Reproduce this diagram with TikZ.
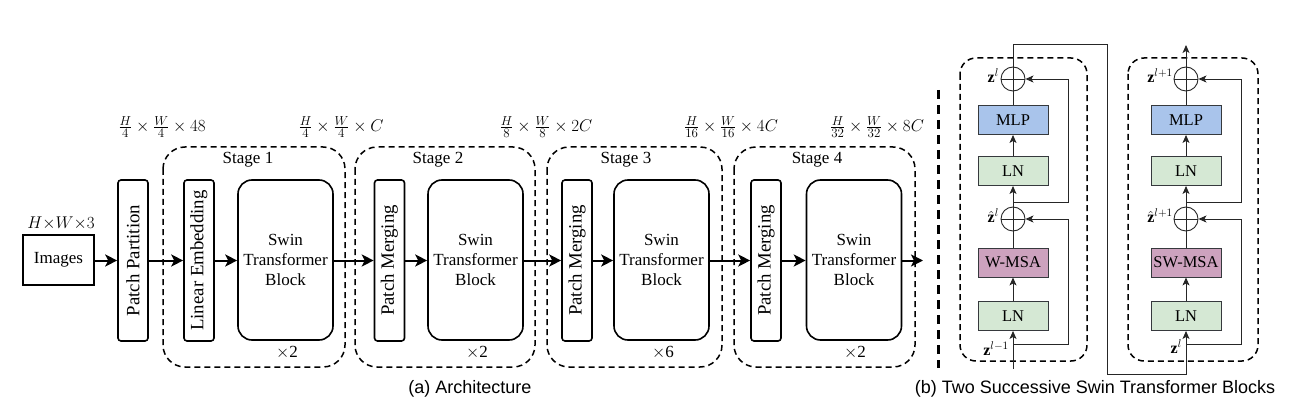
\RequirePackage{fix-cm}
\documentclass[tikz,border=0pt]{standalone}
\usepackage{fontspec}
\setmainfont{Liberation Serif}
\setsansfont{Liberation Sans}
\usetikzlibrary{arrows.meta}
\DeclareMathSizes{17}{17}{13}{10}
\definecolor{lngreen}{HTML}{D5E8D4}
\definecolor{mlpblue}{HTML}{A9C4EB}
\definecolor{msapink}{HTML}{CDA2BE}
\definecolor{edgegray}{HTML}{36393D}
\tikzset{
  txt/.style={font=\fontsize{17}{20.4}\selectfont},
  vtxt/.style={font=\fontsize{18.8}{22}\selectfont},
  smallbox/.style={draw, line width=1.6pt, rounded corners=3pt, fill=white, inner sep=0pt,
     minimum width=30pt, minimum height=161pt, vtxt},
  swin/.style={draw, line width=1.6pt, rounded corners=14pt, fill=white, inner sep=0pt,
     minimum width=95pt, minimum height=160pt, align=center, txt},
  imgbox/.style={draw, line width=1.6pt, inner sep=0pt, minimum width=71pt, minimum height=50pt, txt},
  stagebox/.style={draw, line width=1.5pt, dash pattern=on 6pt off 4pt, rounded corners=22pt},
  mainarr/.style={draw=black, line width=2pt, -{Stealth[length=12pt,width=12pt,inset=3pt]}},
  lbl/.style={font=\fontsize{17}{20.4}\selectfont},
  sb/.style={draw=edgegray, line width=0.9pt, minimum width=70pt, minimum height=29pt, inner sep=0pt,
     font=\fontsize{16.5}{19}\selectfont},
  lnbox/.style={sb, fill=lngreen},
  mlpbox/.style={sb, fill=mlpblue},
  msabox/.style={sb, fill=msapink},
  plusnode/.style={circle, draw=black!85, line width=0.9pt, minimum size=24pt, inner sep=0pt},
  thinln/.style={line width=0.9pt, draw=black!85},
  tarr/.style={thinln, -{Stealth[length=8pt,width=7pt,inset=2pt]}},
  blkdash/.style={draw, line width=1.5pt, dash pattern=on 6pt off 4pt, rounded corners=16pt},
  zl/.style={font=\fontsize{16}{18}\selectfont, inner sep=1pt},
  captxt/.style={font=\sffamily\fontsize{18}{21}\selectfont}
}
\begin{document}
\begin{tikzpicture}[x=1pt,y=-1pt]
\useasboundingbox (0,0) rectangle (1298,406);

% ---------- (a) Architecture ----------
\draw[stagebox] (163,147) rectangle (345,367);
\draw[stagebox] (355,147) rectangle (535,367);
\draw[stagebox] (547,147) rectangle (722,367);
\draw[stagebox] (734,147) rectangle (915,367);

\node[txt] (st1) at (248,160) {Stage 1};
\node[txt] (st2) at (438,160) {Stage 2};
\node[txt] (st3) at (626,160) {Stage 3};
\node[txt] (st4) at (817,160) {Stage 4};

\node[imgbox] (img) at (58.5,260) {Images};
\node[lbl] (imglbl) at (61,223) {$H{\times}W{\times}3$};

\node[smallbox] (pp) at (133,260.5) {\rotatebox{90}{Patch Partition}};
\node[smallbox] (le) at (199,260.5) {\rotatebox{90}{Linear Embedding}};
\node[swin] (sw1) at (285.5,260) {Swin\\Transformer\\Block};
\node[smallbox] (pm2) at (389.5,260.5) {\rotatebox{90}{Patch Merging}};
\node[swin] (sw2) at (475.5,260) {Swin\\Transformer\\Block};
\node[smallbox] (pm3) at (577,260.5) {\rotatebox{90}{Patch Merging}};
\node[swin] (sw3) at (661.5,260) {Swin\\Transformer\\Block};
\node[smallbox] (pm4) at (766,260.5) {\rotatebox{90}{Patch Merging}};
\node[swin] (sw4) at (854,260) {Swin\\Transformer\\Block};
\coordinate (out) at (923,260.5);

\node[txt] (r1) at (287,353) {$\times$2};
\node[txt] (r2) at (477,353) {$\times$2};
\node[txt] (r3) at (663,353) {$\times$6};
\node[txt] (r4) at (855,353) {$\times$2};

\node[lbl] (d1) at (162,127) {$\frac{H}{4}\times\frac{W}{4}\times 48$};
\node[lbl] (d2) at (341,127) {$\frac{H}{4}\times\frac{W}{4}\times C$};
\node[lbl] (d3) at (546,127) {$\frac{H}{8}\times\frac{W}{8}\times 2C$};
\node[lbl] (d4) at (731,127) {$\frac{H}{16}\times\frac{W}{16}\times 4C$};
\node[lbl] (d5) at (877,127) {$\frac{H}{32}\times\frac{W}{32}\times 8C$};

\path[mainarr] (img.east |- out) -- (pp.west |- out);
\path[mainarr] (pp.east |- out) -- (le.west |- out);
\path[mainarr] (le.east |- out) -- (sw1.west |- out);
\path[mainarr] (sw1.east |- out) -- (pm2.west |- out);
\path[mainarr] (pm2.east |- out) -- (sw2.west |- out);
\path[mainarr] (sw2.east |- out) -- (pm3.west |- out);
\path[mainarr] (pm3.east |- out) -- (sw3.west |- out);
\path[mainarr] (sw3.east |- out) -- (pm4.west |- out);
\path[mainarr] (pm4.east |- out) -- (sw4.west |- out);
\path[mainarr] (sw4.east |- out) -- (out);

% separator
\draw[line width=3pt, dash pattern=on 9pt off 6pt] (938,90) -- (938,368);

% ---------- (b) Two blocks ----------
\draw[blkdash] (960,58) rectangle (1087,361);
\draw[blkdash] (1128,58) rectangle (1258,361);

% block 1
\node[lnbox] (lna1) at (1013,316) {LN};
\node[msabox] (msa1) at (1013,262.5) {W-MSA};
\node[plusnode] (pa1) at (1013,219) {};
\node[lnbox] (lnb1) at (1013,171) {LN};
\node[mlpbox] (mlp1) at (1013,120) {MLP};
\node[plusnode] (pb1) at (1013,79) {};
\draw[thinln] (pa1.north) -- (pa1.south) (pa1.west) -- (pa1.east);
\draw[thinln] (pb1.north) -- (pb1.south) (pb1.west) -- (pb1.east);

\coordinate (in1) at (1013,369);
\coordinate (bl1) at (1013,344);
\coordinate (bl1r) at (1068,344);
\coordinate (bl1t) at (1068,219);
\coordinate (bu1) at (1013,202);
\coordinate (bu1r) at (1068,202);
\coordinate (bu1t) at (1068,79);

\draw[tarr] (in1) -- (lna1.south);
\draw[tarr] (lna1.north) -- (msa1.south);
\draw[thinln] (msa1.north) -- (pa1.south);
\draw[tarr] (pa1.north) -- (lnb1.south);
\draw[tarr] (lnb1.north) -- (mlp1.south);
\draw[thinln] (mlp1.north) -- (pb1.south);
\draw[tarr] (bl1) -- (bl1r) -- (bl1t) -- (pa1.east);
\draw[tarr] (bu1) -- (bu1r) -- (bu1t) -- (pb1.east);

\node[zl, anchor=east] (zb1) at (1000,76) {$\mathbf{z}^{l}$};
\node[zl, anchor=east] (za1) at (1000,216) {$\hat{\mathbf{z}}^{l}$};
\node[zl, anchor=east] (zin1) at (1010,349) {$\mathbf{z}^{l-1}$};

% block 2
\node[lnbox] (lna2) at (1186,316) {LN};
\node[msabox] (msa2) at (1186,262.5) {SW-MSA};
\node[plusnode] (pa2) at (1186,219) {};
\node[lnbox] (lnb2) at (1186,171) {LN};
\node[mlpbox] (mlp2) at (1186,120) {MLP};
\node[plusnode] (pb2) at (1186,79) {};
\draw[thinln] (pa2.north) -- (pa2.south) (pa2.west) -- (pa2.east);
\draw[thinln] (pb2.north) -- (pb2.south) (pb2.west) -- (pb2.east);

\coordinate (c1) at (1013,44);
\coordinate (c2) at (1107,44);
\coordinate (c3) at (1107,374);
\coordinate (c4) at (1186,374);
\coordinate (bl2) at (1186,344);
\coordinate (bl2r) at (1241,344);
\coordinate (bl2t) at (1241,219);
\coordinate (bu2) at (1186,202);
\coordinate (bu2r) at (1241,202);
\coordinate (bu2t) at (1241,79);
\coordinate (out2) at (1186,45);

\draw[tarr] (pb1.north) -- (c1) -- (c2) -- (c3) -- (c4) -- (lna2.south);
\draw[tarr] (lna2.north) -- (msa2.south);
\draw[thinln] (msa2.north) -- (pa2.south);
\draw[tarr] (pa2.north) -- (lnb2.south);
\draw[tarr] (lnb2.north) -- (mlp2.south);
\draw[thinln] (mlp2.north) -- (pb2.south);
\draw[tarr] (pb2.north) -- (out2);
\draw[tarr] (bl2) -- (bl2r) -- (bl2t) -- (pa2.east);
\draw[tarr] (bu2) -- (bu2r) -- (bu2t) -- (pb2.east);

\node[zl, anchor=east] (zb2) at (1174,76) {$\mathbf{z}^{l+1}$};
\node[zl, anchor=east] (za2) at (1174,216) {$\hat{\mathbf{z}}^{l+1}$};
\node[zl, anchor=east] (zin2) at (1183,347) {$\mathbf{z}^{l}$};

% captions
\node[captxt] (capa) at (470,389) {(a) Architecture};
\node[captxt] (capb) at (1095,389) {(b) Two Successive Swin Transformer Blocks};
\end{tikzpicture}
\end{document}
